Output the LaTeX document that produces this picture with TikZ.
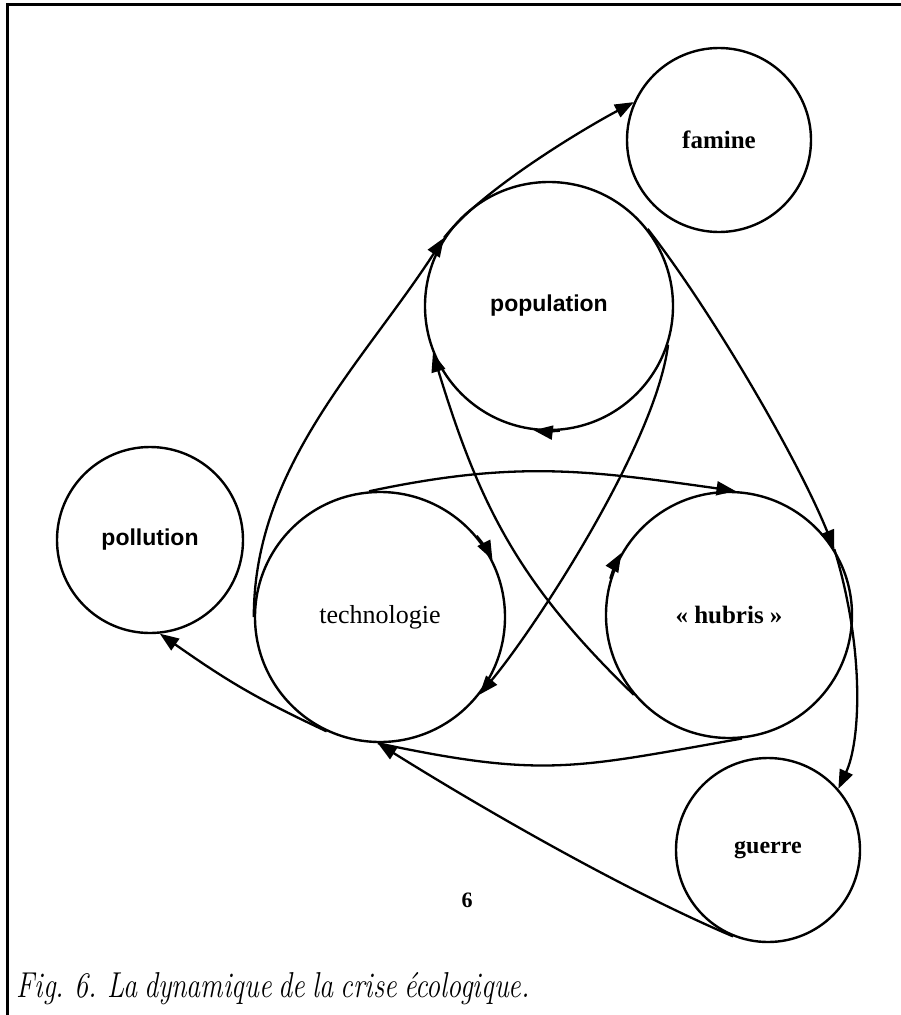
\documentclass[tikz,border=0pt]{standalone}
\usepackage{fontspec}
\newfontfamily\lserif{Liberation Serif}
\newfontfamily\lsans{Liberation Sans}
\usetikzlibrary{arrows.meta}
\begin{document}
\begin{tikzpicture}[x=1pt,y=1pt,
  state/.style={circle, draw, line width=2.4pt, inner sep=0pt},
  link/.style={line width=2.3pt},
  arr/.style={link, -{Triangle[length=19pt,width=14pt]}},
  serifbold/.style={font=\lserif\bfseries\fontsize{#1}{#1}\selectfont},
  sansbold/.style={font=\lsans\bfseries\fontsize{#1}{#1}\selectfont}]
\useasboundingbox (0,0) rectangle (901,-1015);
\draw[line width=3pt] (7.5,-1015) -- (7.5,-4) -- (901,-4);

\node[state, minimum size=184pt, serifbold=25] (F) at (719,-140) {famine};
\node[state, minimum size=248pt, sansbold=23] (P) at (549,-306) {population};
\node[state, minimum size=186pt, sansbold=23] (L) at (150,-540) {pollution};
\node[state, minimum size=250pt, font=\lserif\fontsize{26}{26}\selectfont] (T) at (380,-617) {technologie};
\node[state, minimum size=246pt, serifbold=25] (H) at (729,-615) {«~hubris~»};
\node[state, minimum size=184pt, serifbold=24] (G) at (768,-850) {guerre};

% connectors
\draw[arr] (T.180) .. controls +(90:150) and +(237:150) .. (P.147);
\draw[arr] (P.147) .. controls +(52:60) and +(208:60) .. (F.156);
\draw[arr] (P.38) .. controls +(-52:100) and +(112:100) .. (H.32);
\draw[arr] (H.32) .. controls +(-73:104) and +(65:53) .. (G.41);
\draw[arr] (T.95) .. controls +(12:150) and +(172:150) .. (H.87);
\draw[arr] (P.-18) .. controls +(-97:100) and +(50:85) .. (T.-38);
\draw[arr] (H.220) .. controls +(136:160) and +(-73:160) .. (P.202);
\draw[link] (H.-84) .. controls +(-170:170) and +(-12:170) .. (T.-91);
\draw[arr] (G.248) .. controls +(157:120) and +(-32:120) .. (T.-91);
\draw[arr] (T.-115) .. controls +(155:80) and +(-35:80) .. (L.-84);

% arrows on the circles themselves
\draw[arr] (P.275) arc[start angle=275, end angle=263, radius=125.2pt];
\draw[arr] (T.40) arc[start angle=40, end angle=27, radius=126.2pt];
\draw[arr] (H.163) arc[start angle=163, end angle=150, radius=124.2pt];

\node[serifbold=22] (num) at (467,-900) {6};
\node[anchor=base west, xscale=0.78, font=\itshape\fontsize{36}{36}\selectfont] (cap) at (14,-997) {\spaceskip=0.25em Fig. 6. La dynamique de la crise écologique.};
\end{tikzpicture}
\end{document}
